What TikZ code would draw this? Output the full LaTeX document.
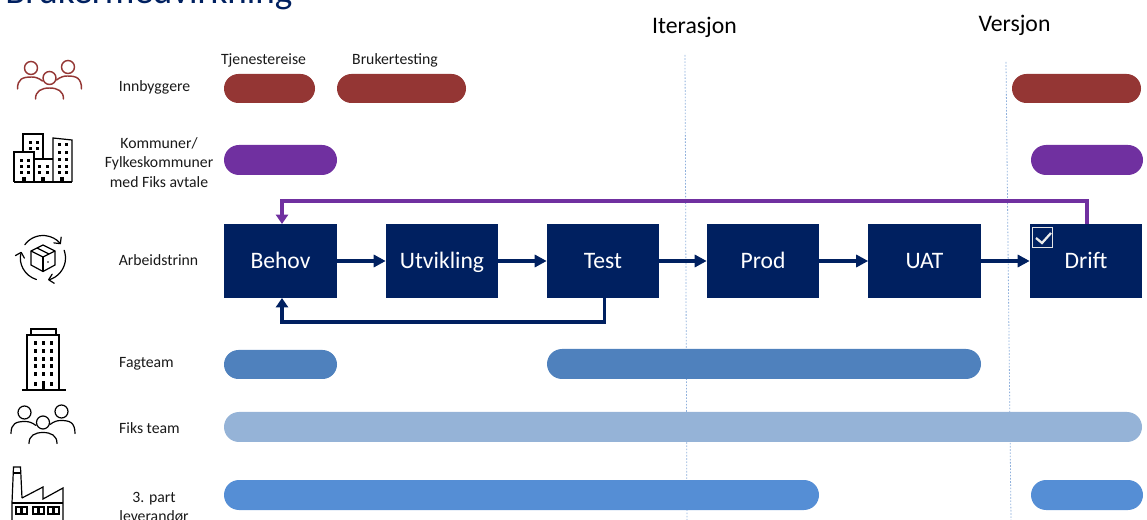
\documentclass[tikz,border=0pt]{standalone}
\usepackage{fontspec}
\setmainfont{Carlito}
\usetikzlibrary{shapes.misc,arrows.meta,calc}
\definecolor{navy}{HTML}{002060}
\definecolor{brick}{HTML}{943634}
\definecolor{violet}{HTML}{7030A0}
\definecolor{midblue}{HTML}{4F81BD}
\definecolor{paleblue}{HTML}{95B3D7}
\definecolor{brightblue}{HTML}{558ED5}
\definecolor{dotblue}{HTML}{8FB0DC}
\newcommand{\fpx}[1]{\fontsize{#1}{#1}\selectfont}
\newcommand{\pill}[6]{% name,x1,x2,y1,y2,colour
  \pgfmathsetlengthmacro{\pw}{(#3-#2)*0.75pt}%
  \pgfmathsetlengthmacro{\ph}{(#5-#4)*0.75pt}%
  \node[pillbar,fill=#6,minimum width=\pw,minimum height=\ph] (#1) at ({(#2+#3)/2},{(#4+#5)/2}) {};}
\newcommand{\stepnode}[4]{% name,x1,x2,text
  \node[stepbox] (#1) at ({(#2+#3)/2},261) {#4};}
\newcommand{\threepeople}[4]{% x,y,colour,width
  \begin{scope}[shift={(#1,#2)},draw=#3,line width=#4,line cap=round]
    \draw (-18.5,-13) circle (6.5);
    \draw (18.5,-14) circle (6.5);
    \draw (0,-3) circle (6.5);
    \draw (-32,8) .. controls (-32,-2) and (-27,-4) .. (-18,-4) .. controls (-14,-4) and (-11,-3) .. (-7,0);
    \draw (32,8) .. controls (32,-3) and (27,-5) .. (18,-5) .. controls (14,-5) and (11,-4) .. (7,-1);
    \draw (-14,18) .. controls (-14,10) and (-8,7) .. (0,7) .. controls (8,7) and (14,10) .. (14,18);
  \end{scope}}
\tikzset{
  x=0.75pt,y=-0.75pt,
  pillbar/.style={rounded rectangle,draw=none,inner sep=0pt,outer sep=0pt},
  stepbox/.style={rectangle,fill=navy,text=white,minimum width=84.4pt,minimum height=55.5pt,inner sep=0pt,outer sep=0pt,font=\fpx{17.7},text height=15pt,text depth=3.5pt},
  lbl/.style={inner sep=0pt,font=\fpx{11.8},align=center,text=black!90,text height=8pt,text depth=2.2pt},
  lblm/.style={inner sep=0pt,font=\fpx{11.8},align=center,text=black!90},
  flow/.style={draw=navy,line width=2.5pt,-{Triangle[length=9pt,width=9pt]}},
  backflow/.style={draw=violet,line width=2.9pt,-{Triangle[length=7pt,width=9pt]}},
  guide/.style={draw=dotblue,line width=0.6pt,dash pattern=on 1.2pt off 1.2pt},
  icon/.style={draw=black,line width=0.9pt,line join=miter},
  win/.style={fill=black,draw=none},
  barb/.style={line cap=round,-{Straight Barb[length=3.5pt,width=7pt,round]}},
}
\begin{document}
\begin{tikzpicture}
\useasboundingbox (0,0) rectangle (1147,520);
\clip (0,0) rectangle (1147,520);
% title
\node[anchor=base west,inner sep=0pt,font=\fpx{27.8},text=navy] (title) at (5,4) {Brukermedvirkning};
\node[anchor=base,inner sep=0pt,font=\fpx{17.8}] (iter) at (694.5,34) {Iterasjon};
\node[anchor=base,inner sep=0pt,font=\fpx{17.8}] (vers) at (1014.5,32) {Versjon};
% guides
\draw[guide] (685,55) -- (687,520);
\draw[guide] (1006,62) -- (1011,520);
% labels
\node[lbl] (tj) at (263.5,61) {Tjenestereise};
\node[lbl] (bt) at (395,61) {Brukertesting};
\node[lbl] (l1) at (154.5,88) {Innbyggere};
\node[lblm] (l2) at (159,162.5) {Kommuner/\\[2.8pt]Fylkeskommuner\\[2.8pt]med Fiks avtale};
\node[lbl] (l3) at (158.5,262) {Arbeidstrinn};
\node[lbl] (l4) at (146.5,363.5) {Fagteam};
\node[lbl] (l5) at (149.5,429.5) {Fiks team};
\node[lblm] (l6) at (154,507) {3. part\\[2.8pt]leverandør};
% bars
\pill{a1}{224}{315}{74}{103}{brick}
\pill{a2}{337}{466}{74}{103}{brick}
\pill{a3}{1012}{1141}{74}{103}{brick}
\pill{b1}{224}{337}{145}{175}{violet}
\pill{b2}{1031}{1143}{145}{175}{violet}
\pill{c1}{224}{337}{350}{379}{midblue}
\pill{c2}{547}{981}{349}{379}{midblue}
\pill{d1}{224}{1142}{412}{442}{paleblue}
\pill{e1}{224}{819}{480}{510}{brightblue}
\pill{e2}{1031}{1143}{480}{510}{brightblue}
% steps
\stepnode{behov}{224}{337}{Behov}
\stepnode{utv}{386}{498}{Utvikling}
\stepnode{test}{547}{659}{Test}
\stepnode{prod}{707}{819}{Prod}
\stepnode{uat}{868}{981}{UAT}
\stepnode{drift}{1030}{1142}{Drift}
\foreach \p/\q in {behov/utv,utv/test,test/prod,prod/uat,uat/drift}
  \draw[flow] (\p) -- (\q);
\coordinate (tb) at ($(test.south)+(1.5,0)$);
\coordinate (bb) at ($(behov.south)+(1.5,0)$);
\coordinate (bt2) at ($(behov.north)+(1.5,0)$);
\coordinate (dt) at ($(drift.north)+(1,0)$);
\draw[flow,-{Triangle[length=7pt,width=9pt]}] (tb) -- ++(0,24) -| (bb);
\draw[backflow] (dt) -- ++(0,-23) -| (bt2);
% checkbox
\node[draw=white!90!black,line width=1.3pt,fill=navy,minimum size=15pt,inner sep=0pt,outer sep=0pt] (chk) at (1042.5,237.5) {};
\draw[white!92!black,line width=1.7pt] ($(chk.center)+(-6.5,0.5)$) -- ($(chk.center)+(-0.5,5.5)$) -- ($(chk.center)+(8.5,-4.5)$);
% people icons
\threepeople{49.5}{81}{brick}{1.1pt}
\threepeople{43}{425.5}{black}{0.9pt}
% cityscape
\begin{scope}[icon]
  \draw (23,152) -- (23,134) -- (43,134) -- (43,159);
  \draw (14,182) -- (14,152) -- (34,152) -- (34,182);
  \draw (34,159) -- (53,159);
  \draw (53,182) -- (53,138) -- (72,140) -- (72,182);
  \draw[line width=1.2pt] (14,182) -- (72,182);
  \foreach \x/\y in {29/141,36/141,29/147,36/147,
     20/159,27/159,20/165,27/165,20/171,27/171,
     38/165,46/165,38/171,46/171,
     58/143,65/143,58/151,65/151,58/158,65/158,58/165,65/165,58/171,65/171}
    \fill[win] (\x,\y) rectangle ++(3.4,3.4);
  \foreach \x in {24,43,62} \fill[win] (\x-2,177) rectangle ++(4,5);
\end{scope}
% package cycle icon
\begin{scope}[icon,shift={(43,258)}]
  \draw (0,-13) -- (12,-7) -- (12,7) -- (0,13.5) -- (-12,7) -- (-12,-7) -- cycle;
  \draw (-12,-7) -- (0,-1) -- (12,-7);
  \draw (0,-1) -- (0,13.5);
  \draw (-6,-10) -- (6,-4);
  \fill (5,4) circle (0.8);
  \draw[barb] (216:22.5) arc (216:322:22.5);
  \draw[barb] (340:22.5) arc (340:437:22.5);
  \draw[barb] (107:22.5) arc (107:196:22.5);
\end{scope}
% tower
\begin{scope}[icon]
  \draw (27,390) -- (27,335) -- (59,335) -- (59,390);
  \draw (31,335) -- (31,329) -- (56,329) -- (56,335);
  \draw[line width=1.2pt] (22,390) -- (66,390);
  \foreach \y in {341,349,357,364,372} \foreach \x in {34,41.5,50} \fill[win] (\x,\y) rectangle ++(3.2,4.5);
  \foreach \x in {34,50} \fill[win] (\x,382) rectangle ++(3.2,4);
  \fill[win] (41.5,381) rectangle ++(3.5,9);
\end{scope}
% factory
\begin{scope}[icon]
  \draw (12,525) -- (12,503) -- (13.5,467) -- (20.5,467) -- (22,498);
  \draw (13.5,473) -- (20.5,473);
  \draw (22,498) -- (43,487) -- (43,499) -- (63,488) -- (63,525);
  \draw (12,503) -- (63,503);
  \draw (16,507) rectangle (27,514);
  \draw (33,507) rectangle (44,514);
  \draw (48,507) rectangle (59,514);
  \draw[line width=1.6pt] (21.5,507) -- (21.5,514) (38.5,507) -- (38.5,514) (53.5,507) -- (53.5,514);
\end{scope}
\end{tikzpicture}
\end{document}
